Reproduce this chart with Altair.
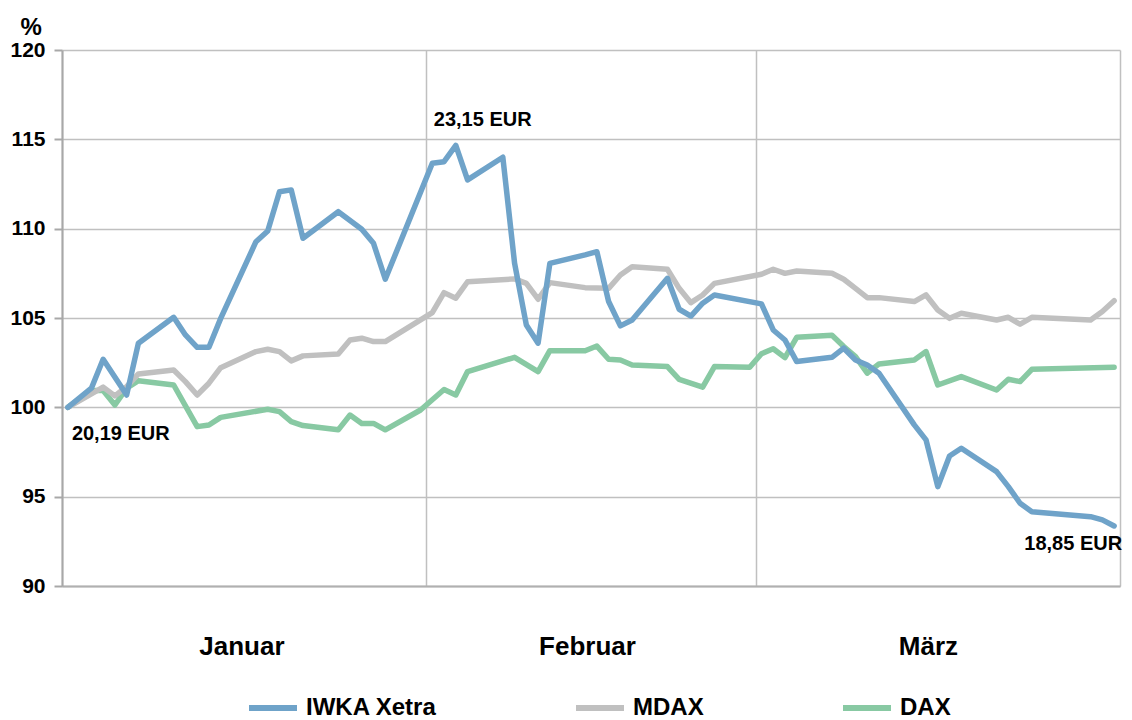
import altair as alt
import pandas as pd

# ---- data (day index from 1 January, value in % of start) ----
iwka_day = [0, 2, 3, 5, 6, 9, 10, 11, 12, 13, 16, 17, 18, 19, 20, 23, 25, 26, 27,
            31, 32, 33, 34, 37, 38, 39, 40, 41, 44, 45, 46, 47, 48, 51, 52, 53, 54, 55,
            59, 60, 61, 62, 65, 66, 67, 68, 69, 72, 73, 74, 75, 76, 79, 80, 81, 82, 87, 88, 89]
iwka_val = [100.0, 101.07, 102.69, 100.69, 103.59, 105.04, 104.05, 103.36, 103.36, 104.98,
            109.27, 109.87, 112.07, 112.17, 109.46, 110.95, 109.97, 109.18, 107.17,
            113.66, 113.75, 114.66, 112.73, 114.0, 108.06, 104.61, 103.59, 108.06, 108.53,
            108.71, 105.92, 104.56, 104.89, 107.22, 105.49, 105.11, 105.83, 106.29,
            105.79, 104.33, 103.77, 102.56, 102.8, 103.31, 102.65, 102.37, 101.91,
            99.02, 98.18, 95.56, 97.28, 97.71, 96.4, 95.56, 94.63, 94.16, 93.88, 93.7, 93.36]

mdax_day = [0, 3, 4, 5, 6, 9, 10, 11, 12, 13, 16, 17, 18, 19, 20, 23, 24, 25, 26, 27,
            30, 31, 32, 33, 34, 38, 39, 40, 41, 44, 46, 47, 48, 51, 52, 53, 54, 55,
            59, 60, 61, 62, 65, 66, 67, 68, 69, 72, 73, 74, 75, 76, 79, 80, 81, 82, 87, 88, 89]
mdax_val = [100.0, 101.13, 100.64, 101.16, 101.87, 102.09, 101.44, 100.69, 101.35, 102.22,
            103.12, 103.25, 103.12, 102.6, 102.88, 102.99, 103.77, 103.87, 103.68, 103.68,
            104.89, 105.3, 106.42, 106.11, 107.03, 107.19, 106.94, 106.05, 106.98, 106.70,
            106.66, 107.41, 107.87, 107.73, 106.66, 105.86, 106.29, 106.94,
            107.45, 107.73, 107.50, 107.63, 107.50, 107.17, 106.66, 106.14, 106.14,
            105.92, 106.29, 105.45, 104.98, 105.27, 104.89, 105.04, 104.65, 105.04,
            104.89, 105.36, 105.97]

dax_day = [0, 2, 3, 4, 5, 6, 9, 11, 12, 13, 17, 18, 19, 20, 23, 24, 25, 26, 27,
           30, 32, 33, 34, 38, 40, 41, 44, 45, 46, 47, 48, 51, 52, 54, 55, 58,
           59, 60, 61, 62, 65, 66, 67, 68, 69, 72, 73, 74, 76, 79, 80, 81, 82, 89]
dax_val = [100.0, 100.94, 100.94, 100.13, 101.07, 101.49, 101.25, 98.92, 99.01, 99.44,
           99.89, 99.76, 99.2, 98.98, 98.74, 99.57, 99.1, 99.1, 98.74,
           99.85, 101.0, 100.69, 102.0, 102.8, 102.0, 103.17, 103.17, 103.43, 102.69,
           102.65, 102.37, 102.28, 101.57, 101.13, 102.28, 102.24,
           103.0, 103.28, 102.78, 103.92, 104.03, 103.4, 102.84, 101.91, 102.43,
           102.65, 103.12, 101.25, 101.72, 100.97, 101.57, 101.44, 102.13, 102.24]

series_names = ["IWKA Xetra", "MDAX", "DAX"]
series_colors = ["#6fa3c9", "#c0c0c0", "#88c9a3"]

months = ["Januar", "Februar", "März"]
month_label_day = [15.3, 44.7, 73.7]
month_bounds = [0, 31, 59, 90]
y_ticks = [90, 95, 100, 105, 110, 115, 120]

start_label = "20,19 EUR"
peak_label = "23,15 EUR"
end_label = "18,85 EUR"

FONT = "Liberation Sans"

# ---- tables ----
rows = []
for name, days, vals in [("DAX", dax_day, dax_val), ("MDAX", mdax_day, mdax_val),
                         ("IWKA Xetra", iwka_day, iwka_val)]:
    for d, v in zip(days, vals):
        rows.append({"series": name, "day": d, "value": v})
df = pd.DataFrame(rows)

peak_i = iwka_val.index(max(iwka_val))
ann_start = pd.DataFrame({"day": [iwka_day[0]], "value": [iwka_val[0]], "label": [start_label]})
ann_peak = pd.DataFrame({"day": [iwka_day[peak_i]], "value": [iwka_val[peak_i]], "label": [peak_label]})
ann_end = pd.DataFrame({"day": [iwka_day[-1]], "value": [iwka_val[-1]], "label": [end_label]})
month_df = pd.DataFrame({"month": months, "day": month_label_day})

xscale = alt.Scale(domain=[0, 90], nice=False, zero=False)
yscale = alt.Scale(domain=[90, 120], nice=False, zero=False)

x_axis = alt.Axis(values=month_bounds, grid=True, labels=False, ticks=False,
                  domain=True, title=None, gridColor="#c0c0c0", gridWidth=1.5,
                  domainColor="#b0b0b0", domainWidth=2)
y_axis = alt.Axis(values=y_ticks, grid=True, gridColor="#c0c0c0", gridWidth=1.5,
                  domainColor="#a8a8a8", domainWidth=2, tickColor="#a8a8a8",
                  tickWidth=2, tickSize=8, labelPadding=9,
                  labelFont=FONT, labelFontSize=21, labelFontWeight="bold",
                  labelColor="black",
                  title="%", titleAngle=0, titleX=-42, titleY=-16,
                  titleAlign="left", titleBaseline="alphabetic",
                  titleFont=FONT, titleFontSize=24, titleFontWeight="bold",
                  titleColor="black")

lines = alt.Chart(df).transform_calculate(pos="datum.day + 0.5").mark_line(
    strokeWidth=5.5, strokeCap="round", strokeJoin="round"
).encode(
    x=alt.X("pos:Q", scale=xscale, axis=x_axis),
    y=alt.Y("value:Q", scale=yscale, axis=y_axis),
    color=alt.Color("series:N", scale=alt.Scale(domain=series_names, range=series_colors),
                    legend=alt.Legend(orient="none", legendX=184, legendY=631,
                                      direction="horizontal", columns=3, title=None,
                                      symbolType="stroke", symbolSize=2304,
                                      symbolStrokeWidth=6, labelFont=FONT,
                                      labelFontSize=24, labelFontWeight="bold",
                                      labelColor="black", columnPadding=127,
                                      labelOffset=6, padding=0)),
    detail="series:N",
)


def ann(data, dx, dy, align):
    return alt.Chart(data).transform_calculate(pos="datum.day + 0.5").mark_text(
        font=FONT, fontSize=20, fontWeight="bold", color="black",
        align=align, baseline="alphabetic", dx=dx, dy=dy
    ).encode(
        x=alt.X("pos:Q", scale=xscale, axis=x_axis),
        y=alt.Y("value:Q", scale=yscale, axis=y_axis),
        text="label:N",
    )


month_text = alt.Chart(month_df).transform_calculate(pos="datum.day").mark_text(
    font=FONT, fontSize=26, fontWeight="bold", color="black",
    align="center", baseline="alphabetic"
).encode(
    x=alt.X("pos:Q", scale=xscale, axis=x_axis),
    y=alt.value(605),
    text="month:N",
)

chart = alt.layer(
    lines,
    ann(ann_start, 4, 33, "left"),
    ann(ann_peak, -22, -19, "left"),
    ann(ann_end, 8, 24, "right"),
    month_text,
).properties(
    width=1058, height=536,
    autosize=alt.AutoSizeParams(type="none"),
    padding={"left": 54, "top": 42, "right": 4, "bottom": 134},
    background="white",
).configure_view(stroke=None)

chart.save("out.html", embed_options={"renderer": "svg", "actions": False})
